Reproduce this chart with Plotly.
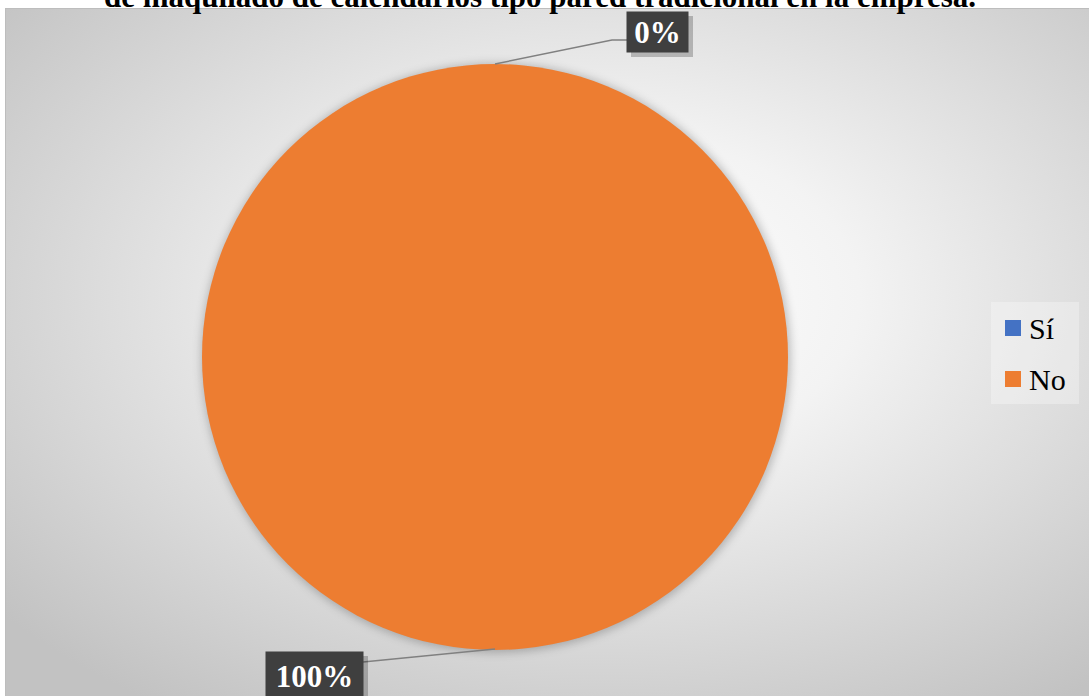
import base64
import plotly.graph_objects as go

# Survey answers and their share of respondents (%)
categories = ["Sí", "No"]
values = [0, 100]
colors = ["#4472C4", "#ED7D31"]
title_text = "de maquilado de calendarios tipo pared tradicional en la empresa."

W, H = 1089, 696
SERIF = "Liberation Serif, Times New Roman, serif"

# pie placement in pixels (centre and radius)
cx, cy, rad = 495, 357, 293


def px(x):
    return x / W


def py(y):
    return 1 - y / H


def paper_path(points):
    """SVG path in paper units from a list of pixel points."""
    parts = [f"{px(x):.5f},{py(y):.5f}" for x, y in points]
    return "M" + " L".join(parts)


total = sum(values)
pct_text = [f"{round(v / total * 100)}%" for v in values]

# chart-area background: radial grey gradient plus a soft shadow under the pie
svg = f"""<svg xmlns='http://www.w3.org/2000/svg' width='{W}' height='{H}' viewBox='0 0 {W} {H}'>
<defs>
<radialGradient id='g' cx='0.55' cy='0.42' r='0.72'>
<stop offset='0' stop-color='#ffffff'/>
<stop offset='0.33' stop-color='#f3f3f3'/>
<stop offset='1' stop-color='#c2c2c2'/>
</radialGradient>
<filter id='b' x='-20%' y='-20%' width='140%' height='140%'><feGaussianBlur stdDeviation='4'/></filter>
</defs>
<rect x='0' y='0' width='{W}' height='{H}' fill='#ffffff'/>
<rect x='5.5' y='8.5' width='{W - 5}' height='{H - 8}' fill='url(#g)' stroke='#bdbdbd' stroke-width='1'/>
<circle cx='{cx + 1}' cy='{cy + 1}' r='{rad + 2}' fill='#000000' fill-opacity='0.22' filter='url(#b)'/>
</svg>"""
bg_uri = "data:image/svg+xml;base64," + base64.b64encode(svg.encode()).decode()

fig = go.Figure(
    go.Pie(
        labels=categories,
        values=values,
        marker=dict(colors=colors, line=dict(width=0)),
        textinfo="none",
        sort=False,
        direction="clockwise",
        rotation=0,
        showlegend=False,
        hoverinfo="label+percent",
        domain=dict(x=[px(cx - rad), px(cx + rad)], y=[py(cy + rad), py(cy - rad)]),
    )
)

shapes = []
annotations = []

# title line (its first line runs off the top of the page)
annotations.append(dict(
    text=f"<b>{title_text}</b>", x=px(540), y=py(16), xref="paper", yref="paper",
    xanchor="center", yanchor="bottom", showarrow=False,
    font=dict(family=SERIF, size=31, color="#000000"),
))

# data labels with leader lines
label_boxes = [
    # (box left, top, width, height, leader points)
    (627, 12, 61, 40, [(cx, cy - rad), (612, 40), (627, 40)]),
    (266, 652, 97, 48, [(cx, cy + rad - 1), (363, 662)]),
]
for (bx, by, bw, bh, pts), txt in zip(label_boxes, pct_text):
    shapes.append(dict(type="path", path=paper_path(pts), xref="paper", yref="paper",
                       line=dict(color="#808080", width=1.5), layer="above"))
    shapes.append(dict(type="rect", xref="paper", yref="paper",
                       x0=px(bx + 4), x1=px(bx + bw + 5), y0=py(by + bh + 5), y1=py(by + 4),
                       fillcolor="rgba(0,0,0,0.22)", line=dict(width=0), layer="above"))
    annotations.append(dict(
        text=f"<b>{txt}</b>", x=px(bx + bw / 2), y=py(by + bh / 2), xref="paper", yref="paper",
        xanchor="center", yanchor="middle", showarrow=False,
        width=bw, height=bh, bgcolor="#3f3f3f", borderpad=0,
        font=dict(family=SERIF, size=31, color="#ffffff"),
    ))

# legend box with coloured squares
shapes.append(dict(type="rect", xref="paper", yref="paper",
                   x0=px(991), x1=px(1079), y0=py(404), y1=py(302),
                   fillcolor="rgba(255,255,255,0.3)", line=dict(width=0), layer="below"))
for i, (cat, col) in enumerate(zip(categories, colors)):
    yc = 328 + i * 51
    shapes.append(dict(type="rect", xref="paper", yref="paper",
                       x0=px(1005), x1=px(1021), y0=py(yc + 8), y1=py(yc - 8),
                       fillcolor=col, line=dict(width=0), layer="above"))
    annotations.append(dict(
        text=cat, x=px(1027), y=py(yc), xref="paper", yref="paper",
        xanchor="left", yanchor="middle", showarrow=False,
        font=dict(family=SERIF, size=30, color="#000000"),
    ))

fig.update_layout(
    width=W, height=H,
    margin=dict(l=0, r=0, t=0, b=0),
    paper_bgcolor="#ffffff",
    plot_bgcolor="#ffffff",
    images=[dict(source=bg_uri, xref="paper", yref="paper", x=0, y=1,
                 sizex=1, sizey=1, sizing="stretch", layer="below",
                 xanchor="left", yanchor="top")],
    shapes=shapes,
    annotations=annotations,
)

fig.write_html("out.html")
